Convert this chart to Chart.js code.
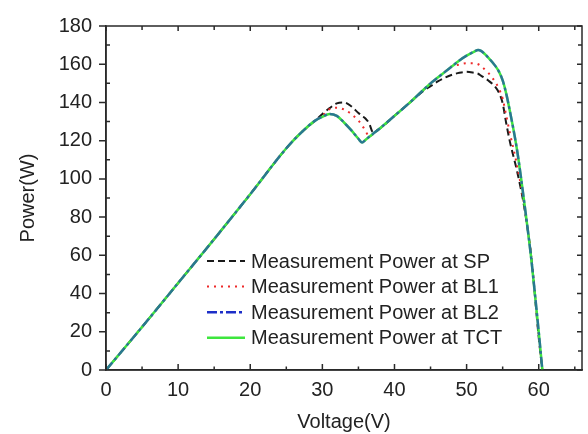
<!DOCTYPE html>
<html>
<head>
<meta charset="utf-8">
<script src="https://cdn.jsdelivr.net/npm/chart.js@4/dist/chart.umd.min.js"></script>
<style>
  html, body { margin: 0; padding: 0; background: #fff; }
  #wrap { width: 588px; height: 434px; position: relative; }
</style>
</head>
<body>
<div id="wrap"><canvas id="c" width="588" height="434"></canvas></div>
<script>
// ---- data ----
const voltage  = [0, 5, 10, 15, 20, 25, 27, 29, 30, 31, 32, 33, 34, 35, 35.5, 36, 36.5, 37, 38, 40, 42, 44, 45, 46, 47, 48, 49, 50, 51, 51.6, 52, 53, 54, 54.5, 55, 55.5, 56, 57, 58, 59, 60, 60.5];
const powerSP  = [0, 22.5, 45.5, 68.5, 92, 116, 124, 130.5, 134, 137, 139.5, 140, 138, 134.5, 133, 131.5, 129, 124.5, 126.5, 133, 139.5, 146, 148.5, 151, 153, 154.5, 155.5, 156, 155.5, 155, 154, 151.5, 148, 145, 139.5, 129, 119.5, 104, 85, 58, 17, 0];
const powerBL1 = [0, 22.5, 45.5, 68.5, 92, 116, 124, 130.5, 133, 136.5, 137.2, 136.3, 134, 130.5, 128, 125, 122, 123.5, 126.5, 133, 139.5, 146.5, 150, 153, 156, 159, 159.8, 160.5, 160.5, 160, 159, 155.5, 150.5, 147, 142, 133, 124, 107, 86, 58, 18, 0];
const powerBL2 = [0, 22.5, 45.5, 68.5, 92, 116, 124, 130.5, 132.5, 134, 133, 129.5, 125.5, 121, 119, 120.5, 122, 123.5, 126.5, 133, 139.5, 146.5, 150, 153, 156, 159, 162, 164.5, 166.5, 167.5, 167, 163.5, 159, 156, 151.5, 144.5, 135.5, 115, 87.5, 57, 20, 0];
const powerTCT = [0, 22.5, 45.5, 68.5, 92, 116, 124, 130.5, 132.5, 134, 133, 129.5, 125.5, 121, 119, 120.5, 122, 123.5, 126.5, 133, 139.5, 146.5, 150, 153, 156, 159, 162, 164.5, 166.5, 167.5, 167, 163.5, 159, 156, 151.5, 144.5, 135.5, 115, 87.5, 57, 20, 0];
const seriesLabels = ['Measurement Power at SP', 'Measurement Power at BL1', 'Measurement Power at BL2', 'Measurement Power at TCT'];
const xTitle = 'Voltage(V)';
const yTitle = 'Power(W)';

const FONT = '"Liberation Sans", Arial, sans-serif';
const AXIS = '#2a2a2a';
const COLORS = { sp: '26,26,26', bl1: '238,42,42', bl2: '29,47,200', tct: '62,230,62' };

function pts(ys) { return voltage.map((v, i) => ({ x: v, y: ys[i] })); }

const datasets = [
  { label: seriesLabels[0], data: pts(powerSP),  rgb: COLORS.sp,  alpha: 1,    borderDash: [7, 4], borderWidth: 2, order: 3 },
  { label: seriesLabels[1], data: pts(powerBL1), rgb: COLORS.bl1, alpha: 1,    borderDash: [2, 5], borderWidth: 2, order: 2 },
  { label: seriesLabels[2], data: pts(powerBL2), rgb: COLORS.bl2, alpha: 0.6,  borderDash: [10, 3, 3, 3], borderWidth: 2.5, order: 0 },
  { label: seriesLabels[3], data: pts(powerTCT), rgb: COLORS.tct, alpha: 1,    borderDash: [], borderWidth: 2.5, order: 1 }
].map(d => Object.assign(d, {
  borderColor: 'rgba(' + d.rgb + ',' + d.alpha + ')',
  backgroundColor: 'rgba(' + d.rgb + ',' + d.alpha + ')',
  pointRadius: 0, fill: false, cubicInterpolationMode: 'monotone'
}));

// ticks drawn inward (and outward majors on left), plus box and legend
const framePlugin = {
  id: 'frame',
  afterDraw(chart) {
    const { ctx, chartArea: a, scales: { x, y } } = chart;
    ctx.save();
    ctx.strokeStyle = AXIS;
    ctx.lineWidth = 1.5;
    ctx.strokeRect(a.left, a.top, a.right - a.left, a.bottom - a.top);
    const xMaj = x.ticks.map(t => t.value);
    const yMaj = y.ticks.map(t => t.value);
    const xMin = [], yMin = [];
    for (let i = 0; i < xMaj.length; i++) {
      const nx = i + 1 < xMaj.length ? xMaj[i + 1] : xMaj[i] + (xMaj[1] - xMaj[0]);
      const mid = (xMaj[i] + nx) / 2;
      if (mid < x.max) xMin.push(mid);
    }
    for (let i = 0; i + 1 < yMaj.length; i++) yMin.push((yMaj[i] + yMaj[i + 1]) / 2);
    ctx.beginPath();
    xMaj.forEach(v => { const px = x.getPixelForValue(v);
      ctx.moveTo(px, a.bottom); ctx.lineTo(px, a.bottom - 6);
      ctx.moveTo(px, a.top); ctx.lineTo(px, a.top + 5); });
    xMin.forEach(v => { const px = x.getPixelForValue(v);
      ctx.moveTo(px, a.bottom); ctx.lineTo(px, a.bottom - 3.5);
      ctx.moveTo(px, a.top); ctx.lineTo(px, a.top + 4); });
    yMaj.forEach(v => { const py = y.getPixelForValue(v);
      ctx.moveTo(a.left - 7, py); ctx.lineTo(a.left, py);
      ctx.moveTo(a.right, py); ctx.lineTo(a.right - 5, py); });
    yMin.forEach(v => { const py = y.getPixelForValue(v);
      ctx.moveTo(a.left, py); ctx.lineTo(a.left + 4, py);
      ctx.moveTo(a.right, py); ctx.lineTo(a.right - 4, py); });
    ctx.stroke();

    // legend inside plot (opaque swatches)
    const lx0 = a.left + 101, lx1 = a.left + 139, tx = a.left + 145;
    let ly = a.top + 235;
    ctx.font = '20px ' + FONT;
    ctx.textBaseline = 'middle';
    ctx.textAlign = 'left';
    chart.data.datasets.forEach(d => {
      ctx.strokeStyle = 'rgb(' + d.rgb + ')';
      ctx.lineWidth = d.borderWidth;
      ctx.setLineDash(d.borderDash);
      ctx.beginPath(); ctx.moveTo(lx0, ly); ctx.lineTo(lx1, ly); ctx.stroke();
      ctx.setLineDash([]);
      ctx.fillStyle = '#222';
      ctx.fillText(d.label, tx, ly + 1);
      ly += 25.6;
    });
    ctx.restore();
  }
};

new Chart(document.getElementById('c'), {
  type: 'line',
  data: { datasets },
  options: {
    responsive: false,
    animation: false,
    devicePixelRatio: 1,
    layout: { padding: { top: 20, right: 6, left: 0, bottom: 0 } },
    plugins: { legend: { display: false }, tooltip: { enabled: false } },
    scales: {
      x: {
        type: 'linear', min: 0, max: 66,
        grid: { display: false, drawTicks: false },
        border: { display: true, color: AXIS, width: 1.5 },
        ticks: { stepSize: 10, includeBounds: false, padding: 8, color: '#222', font: { family: FONT, size: 20 }, maxRotation: 0 },
        title: { display: true, text: xTitle, color: '#222', font: { family: FONT, size: 20 }, padding: { top: 4, bottom: 0 } },
        afterFit(s) { s.height = 64; }
      },
      y: {
        type: 'linear', min: 0, max: 180,
        grid: { display: false, drawTicks: false },
        border: { display: true, color: AXIS, width: 1.5 },
        ticks: { stepSize: 20, padding: 14, color: '#222', font: { family: FONT, size: 20 } },
        title: { display: true, text: yTitle, color: '#222', font: { family: FONT, size: 20 }, padding: { top: 16, bottom: 4 } },
        afterFit(s) { s.width = 106; }
      }
    }
  },
  plugins: [framePlugin]
});
</script>
</body>
</html>
